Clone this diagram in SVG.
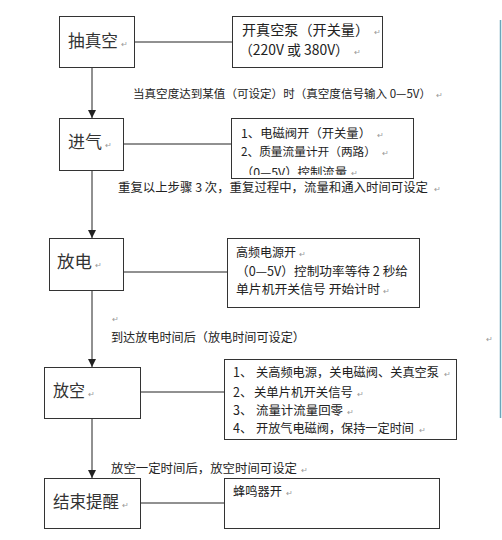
<svg xmlns="http://www.w3.org/2000/svg" width="502" height="540" viewBox="0 0 502 540">
<style>
  text { font-family: "Noto Sans CJK SC", "Noto Sans", sans-serif; fill: #222; }
  .box { fill: #fff; stroke: #333; stroke-width: 1; }
  .node { font-size: 16.5px; fill: #333; }
  .body { font-size: 12.5px; }
  .lbl { font-size: 12px; }
  .pm { font-size: 8px; fill: #999; }
  .conn { stroke: #222; stroke-width: 1; fill: none; }
</style>
<defs>
  <marker id="arr" viewBox="0 0 8 10" refX="8" refY="5" markerWidth="8" markerHeight="10" markerUnits="userSpaceOnUse" orient="auto">
    <path d="M0,1 L8,5 L0,9 Z" fill="#222"/>
  </marker>
  <clipPath id="clip2"><rect x="231" y="118" width="182" height="57"/></clipPath>
</defs>
<rect width="502" height="540" fill="#fff"/>
<rect x="499" y="20" width="3" height="398" fill="#dbe9ee"/>
<line x1="500.5" y1="20" x2="500.5" y2="418" stroke="#6aa6bb" stroke-width="1"/>

<g id="connectors">
  <line class="conn" x1="92" y1="67" x2="92" y2="118" marker-end="url(#arr)"/>
  <line class="conn" x1="92" y1="170" x2="92" y2="238" marker-end="url(#arr)"/>
  <line class="conn" x1="92" y1="290" x2="92" y2="367" marker-end="url(#arr)"/>
  <line class="conn" x1="92" y1="418" x2="92" y2="478" marker-end="url(#arr)"/>
  <line class="conn" x1="134" y1="42" x2="232" y2="42"/>
  <line class="conn" x1="123" y1="144" x2="231" y2="144"/>
  <line class="conn" x1="123" y1="272" x2="227" y2="272"/>
  <line class="conn" x1="140" y1="392" x2="224" y2="392"/>
  <line class="conn" x1="140" y1="503" x2="224" y2="503"/>
</g>

<g id="labels">
  <text class="lbl" style="font-size:11.4px" x="133" y="98" textLength="298" lengthAdjust="spacingAndGlyphs">当真空度达到某值（可设定）时（真空度信号输入 0—5V）</text><text class="pm" x="436" y="98">↵</text>
  <text class="lbl" x="118" y="192" textLength="310" lengthAdjust="spacingAndGlyphs">重复以上步骤 3 次，重复过程中，流量和通入时间可设定</text><text class="pm" x="434" y="192">↵</text>
  <text class="pm" x="112" y="322">↵</text>
  <text class="lbl" x="111" y="342" textLength="194" lengthAdjust="spacingAndGlyphs">到达放电时间后（放电时间可设定）</text><text class="pm" x="486" y="342">↵</text>
  <text class="lbl" x="111" y="473" textLength="186" lengthAdjust="spacingAndGlyphs">放空一定时间后，放空时间可设定</text><text class="pm" x="301" y="473">↵</text>
</g>

<g id="n1">
  <rect class="box" x="59.5" y="16.5" width="75" height="51"/>
  <text class="node" x="68" y="47" textLength="50" lengthAdjust="spacingAndGlyphs">抽真空</text><text class="pm" x="121" y="47">↵</text>
</g>
<g id="n1r">
  <rect class="box" x="232.5" y="16.5" width="150" height="51"/>
  <text style="font-size:14px" x="242" y="35" textLength="127" lengthAdjust="spacingAndGlyphs">开真空泵（开关量）</text><text class="pm" x="374" y="35">↵</text>
  <text style="font-size:14px" x="239" y="55" textLength="110" lengthAdjust="spacingAndGlyphs">（220V 或 380V）</text><text class="pm" x="354" y="55">↵</text>
</g>

<g id="n2">
  <rect class="box" x="59.5" y="118.5" width="64" height="52"/>
  <text class="node" x="68" y="148" textLength="34" lengthAdjust="spacingAndGlyphs">进气</text><text class="pm" x="105" y="148">↵</text>
</g>
<g id="n2r">
  <rect class="box" x="231.5" y="118.5" width="182" height="60"/>
  <g clip-path="url(#clip2)">
    <text class="body" style="font-size:12px" x="241" y="138" textLength="130" lengthAdjust="spacingAndGlyphs">1、电磁阀开（开关量）</text><text class="pm" x="377" y="138">↵</text>
    <text class="body" style="font-size:11.7px" x="241" y="156" textLength="135" lengthAdjust="spacingAndGlyphs">2、质量流量计开（两路）</text><text class="pm" x="382" y="156">↵</text>
    <text class="body" style="font-size:12px" x="241" y="176.5" textLength="106" lengthAdjust="spacingAndGlyphs">（0—5V）控制流量</text><text class="pm" x="351" y="176">↵</text>
  </g>
</g>

<g id="n3">
  <rect class="box" x="49.5" y="238.5" width="74" height="52"/>
  <text class="node" x="57" y="268" textLength="35" lengthAdjust="spacingAndGlyphs">放电</text><text class="pm" x="95" y="268">↵</text>
</g>
<g id="n3r">
  <rect class="box" x="227.5" y="238.5" width="192" height="69"/>
  <text class="body" x="236" y="257" textLength="60" lengthAdjust="spacingAndGlyphs">高频电源开</text><text class="pm" x="299" y="257">↵</text>
  <text class="body" x="236" y="276" textLength="172" lengthAdjust="spacingAndGlyphs">（0—5V）控制功率等待 2 秒给</text>
  <text class="body" x="236" y="294" textLength="144" lengthAdjust="spacingAndGlyphs">单片机开关信号  开始计时</text><text class="pm" x="383" y="294">↵</text>
</g>

<g id="n4">
  <rect class="box" x="44.5" y="367.5" width="96" height="51"/>
  <text class="node" x="53" y="397" textLength="32" lengthAdjust="spacingAndGlyphs">放空</text><text class="pm" x="88" y="397">↵</text>
</g>
<g id="n4r">
  <rect class="box" x="224.5" y="359.5" width="232" height="80"/>
  <text class="body" x="233" y="377">1、</text><text class="body" x="256" y="377" textLength="183" lengthAdjust="spacingAndGlyphs">关高频电源，关电磁阀、关真空泵</text><text class="pm" x="444" y="377">↵</text>
  <text class="body" x="233" y="397">2、</text><text class="body" x="254" y="397" textLength="99" lengthAdjust="spacingAndGlyphs">关单片机开关信号</text><text class="pm" x="357" y="397">↵</text>
  <text class="body" x="233" y="415">3、</text><text class="body" x="256" y="415" textLength="87" lengthAdjust="spacingAndGlyphs">流量计流量回零</text><text class="pm" x="347" y="415">↵</text>
  <text class="body" x="233" y="433">4、</text><text class="body" x="256" y="433" textLength="158" lengthAdjust="spacingAndGlyphs">开放气电磁阀，保持一定时间</text><text class="pm" x="419" y="433">↵</text>
</g>

<g id="n5">
  <rect class="box" x="44.5" y="478.5" width="96" height="50"/>
  <text class="node" x="53" y="508" textLength="66" lengthAdjust="spacingAndGlyphs">结束提醒</text><text class="pm" x="122" y="508">↵</text>
</g>
<g id="n5r">
  <rect class="box" x="224.5" y="478.5" width="215" height="50"/>
  <text class="body" x="233" y="496" textLength="49" lengthAdjust="spacingAndGlyphs">蜂鸣器开</text><text class="pm" x="286" y="496">↵</text>
</g>
</svg>
